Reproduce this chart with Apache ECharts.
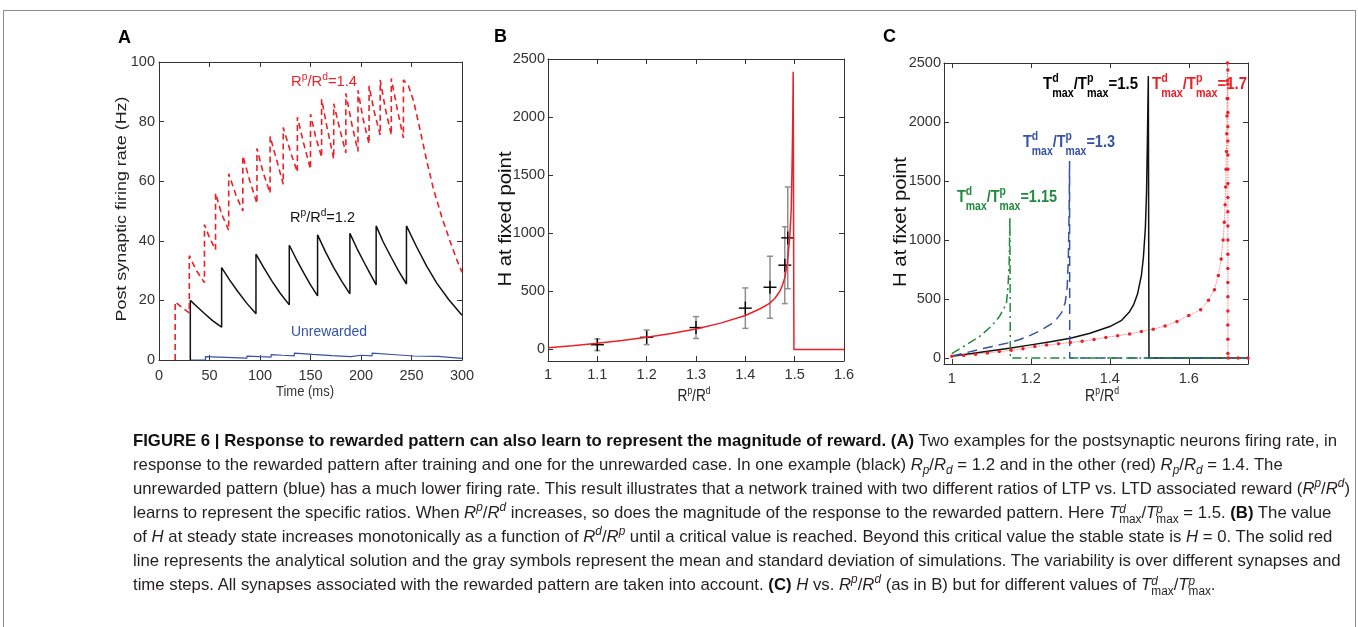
<!DOCTYPE html>
<html><head><meta charset="utf-8">
<script src="https://cdn.jsdelivr.net/npm/echarts@6/dist/echarts.min.js"></script>
<style>
html,body{margin:0;padding:0;background:#fff;width:1358px;height:627px;overflow:hidden}
#chart{position:absolute;left:0;top:0;width:1358px;height:627px}
#frame{position:absolute;left:3px;top:10px;width:1351px;height:700px;border:1px solid #8d8d8d;pointer-events:none}
#caption{position:absolute;left:133px;top:429px;font-family:"Liberation Sans",Arial,sans-serif;font-size:17px;line-height:24px;color:#231f20;transform-origin:0 0;white-space:nowrap}
#caption .ln{display:block;height:24px}
#caption b{color:#111}
#caption sup,#caption sub{font-size:12px;line-height:0;position:relative;vertical-align:baseline}
#caption sup{top:-0.55em}
#caption sub{top:0.3em}
#caption .st{display:inline-block;vertical-align:-5px;font-size:12px;line-height:10px;text-align:left}
#caption .st > *{display:block}
</style></head><body>
<div id="chart"></div>
<div id="frame"></div>
<div id="caption">
<div class="ln"><span id="l1"><b>FIGURE 6 | Response to rewarded pattern can also learn to represent the magnitude of reward. (A)</b> Two examples for the postsynaptic neurons firing rate, in</span></div>
<div class="ln"><span>response to the rewarded pattern after training and one for the unrewarded case. In one example (black) <i>R</i><sub><i>p</i></sub>/<i>R</i><sub><i>d</i></sub> = 1.2 and in the other (red) <i>R</i><sub><i>p</i></sub>/<i>R</i><sub><i>d</i></sub> = 1.4. The</span></div>
<div class="ln"><span>unrewarded pattern (blue) has a much lower firing rate. This result illustrates that a network trained with two different ratios of LTP vs. LTD associated reward (<i>R</i><sup><i>p</i></sup>/<i>R</i><sup><i>d</i></sup>)</span></div>
<div class="ln"><span>learns to represent the specific ratios. When <i>R</i><sup><i>p</i></sup>/<i>R</i><sup><i>d</i></sup> increases, so does the magnitude of the response to the rewarded pattern. Here <i>T</i><span class="st"><i>d</i><span>max</span></span>/<i>T</i><span class="st"><i>p</i><span>max</span></span> = 1.5. <b>(B)</b> The value</span></div>
<div class="ln"><span>of <i>H</i> at steady state increases monotonically as a function of <i>R</i><sup><i>d</i></sup>/<i>R</i><sup><i>p</i></sup> until a critical value is reached. Beyond this critical value the stable state is <i>H</i> = 0. The solid red</span></div>
<div class="ln"><span>line represents the analytical solution and the gray symbols represent the mean and standard deviation of simulations. The variability is over different synapses and</span></div>
<div class="ln"><span>time steps. All synapses associated with the rewarded pattern are taken into account. <b>(C)</b> <i>H</i> vs. <i>R</i><sup><i>p</i></sup>/<i>R</i><sup><i>d</i></sup> (as in B) but for different values of <i>T</i><span class="st"><i>d</i><span>max</span></span>/<i>T</i><span class="st"><i>p</i><span>max</span></span>.</span></div>
</div>
<script>
// ================= DATA =================
// Panel A: time (ms) vs post synaptic firing rate (Hz)
const aXTicks = [0, 50, 100, 150, 200, 250, 300];
const aYTicks = [0, 20, 40, 60, 80, 100];
const aBlack = [[31,0],[31,20],[38,17.8],[45,15.6],[53,13.2],[62,11],[62,31],[70,26.8],[78,23],[87,19],[96,15.5],[96,35.5],[104,30.8],[112,26.4],[120,22.4],[129,18.5],[129,38.5],[136,33.8],[143,29.4],[150,25.2],[157,21.5],[157,42],[165,36.2],[173,31],[181,26.4],[189,22.2],[189,42.5],[196,37.4],[203,32.8],[209,29],[215,25.2],[215,45],[222,39.6],[230,34.4],[237,30],[245,25.5],[245,45],[255,38],[265,31.5],[275,25.8],[287,20.2],[300,15]];
const aRed = [[16,0],[16,19.5],[23,17.6],[30,15.8],[30,35],[37,30],[45,26],[45,45.5],[50,41],[56,37],[56,56],[62,49],[69,43.5],[69,62.5],[76,55.5],[83,50],[83,68.5],[90,60],[97,52.5],[97,71],[103,63],[110,56],[110,75],[117,66.5],[123,59],[123,78],[130,70],[137,63],[137,81.5],[143,73],[150,64],[150,82.5],[155,75],[161,68],[161,87.5],[167,77],[173,67.5],[173,86],[179,77.5],[185,69.5],[185,89.5],[191,79],[197,70],[197,90.5],[202,81],[208,72.5],[208,92],[213,83.5],[219,75.5],[219,94],[224,84.5],[230,75.5],[230,94.5],[236,84],[242,74.5],[242,94],[247,92],[252,87],[258,78],[265,67],[272,57],[280,48],[288,40],[295,33.5],[300,29.5]];
const aBlue = [[31,0],[46,0],[46,1.1],[66,0.85],[87,0.6],[87,1.3],[99,1.1],[111,0.95],[111,1.8],[122,1.6],[134,1.4],[134,2.3],[152,1.9],[171,1.5],[190,1.15],[190,1.8],[200,1.6],[211,1.4],[211,2.3],[231,1.85],[252,1.35],[252,2.0],[276,1.2],[300,0.55]];

// Panel B: R^p/R^d vs H at fixed point
const bXTicks = [1, 1.1, 1.2, 1.3, 1.4, 1.5, 1.6];
const bYTicks = [0, 500, 1000, 1500, 2000, 2500];
const bCurve = [[1,14],[1.05,32],[1.1,52],[1.15,76],[1.2,104],[1.25,136],[1.3,176],[1.35,226],[1.4,292],[1.43,350],[1.45,399],[1.46,440],[1.47,500],[1.475,550],[1.48,616],[1.485,740],[1.49,962],[1.493,1200],[1.495,1650],[1.4962,2000],[1.497,2390],[1.4985,0],[1.6,0]];
const bSimX = [1.1, 1.2, 1.3, 1.4, 1.45, 1.48, 1.486];
const bSimMean = [40, 104, 188, 355, 535, 725, 960];
const bSimSd = [50, 63, 94, 174, 267, 331, 438];

// Panel C: R^p/R^d vs H at fixet point for several Tmax ratios
const cXTicks = [1, 1.2, 1.4, 1.6];
const cYTicks = [0, 500, 1000, 1500, 2000, 2500];
const cBlack = [[1,15],[1.05,38],[1.1,62],[1.15,86],[1.2,112],[1.25,138],[1.3,169],[1.35,210],[1.4,267],[1.43,320],[1.45,393],[1.46,450],[1.47,540],[1.48,700],[1.485,850],[1.49,1100],[1.493,1400],[1.495,1800],[1.4975,2390],[1.4985,2390],[1.4992,0],[1.75,0]];
const cBlue = [[1,17],[1.035,45],[1.07,74],[1.1,97],[1.14,127],[1.17,155],[1.2,195],[1.225,235],[1.25,285],[1.265,330],[1.278,385],[1.287,470],[1.292,600],[1.295,850],[1.297,1250],[1.298,1670],[1.2985,0],[1.75,0]];
const cGreen = [[1,38],[1.035,110],[1.069,180],[1.1,270],[1.12,350],[1.13,410],[1.138,460],[1.142,600],[1.145,800],[1.147,1190],[1.148,0],[1.75,0]];
const cRed = [[1,15],[1.03,22],[1.06,33],[1.09,44],[1.12,55],[1.15,66],[1.18,80],[1.21,98],[1.24,110],[1.27,122],[1.3,132],[1.33,142],[1.36,158],[1.39,175],[1.42,190],[1.45,205],[1.48,225],[1.51,245],[1.54,272],[1.57,310],[1.6,360],[1.63,410],[1.65,490],[1.665,580],[1.675,700],[1.682,840],[1.687,1000],[1.69,1150],[1.692,1300],[1.6935,1450],[1.6945,1600],[1.6955,1750],[1.6962,1900],[1.6968,2050],[1.6973,2200],[1.6977,2350],[1.698,2500],[1.699,2440],[1.699,2320],[1.699,2200],[1.699,2080],[1.699,1960],[1.699,1840],[1.699,1720],[1.699,1600],[1.699,1480],[1.699,1360],[1.699,1240],[1.699,1120],[1.699,1000],[1.699,880],[1.699,760],[1.699,640],[1.699,520],[1.699,400],[1.699,280],[1.699,160],[1.699,40],[1.7,0],[1.725,0],[1.75,0]];

// ================= STYLE / HELPERS =================
const FONT = '"Liberation Sans", Arial, Helvetica, sans-serif';
const RED = '#ee1f26', BLUE = '#3352a8', GREEN = '#1f8a3c', BLACK = '#111', AX = '#333';
const mctx = document.createElement('canvas').getContext('2d');
function textW(t, f) { mctx.font = f; return mctx.measureText(t).width; }
const MID = 0.3465;
function mathLabel(o) {
  const wt = o.bold ? 'bold ' : '';
  const S = o.size, s = S * (o.smallRatio || 0.72);
  const fMain = wt + S + 'px ' + FONT, fSmall = wt + s.toFixed(2) + 'px ' + FONT;
  const supK = o.supK == null ? 0.42 : o.supK, subK = o.subK == null ? 0.48 : o.subK;
  const items = []; let cx = 0;
  for (const p of o.parts) {
    if (typeof p === 'string') { items.push({t: p, f: fMain, x: cx, dy: -MID * S}); cx += textW(p, fMain); }
    else {
      let w = 0;
      if (p.sup) { items.push({t: p.sup, f: fSmall, x: cx, dy: -supK * S - MID * s}); w = Math.max(w, textW(p.sup, fSmall)); }
      if (p.sub) { items.push({t: p.sub, f: fSmall, x: cx, dy: subK * S - MID * s}); w = Math.max(w, textW(p.sub, fSmall)); }
      cx += w;
    }
  }
  const sc = o.width ? o.width / cx : 1;
  const off = o.align === 'center' ? -cx / 2 : 0;
  const shift = o.center ? 0.36 * S : 0;
  return {type: 'group', x: o.x, y: o.y, scaleX: sc, rotation: o.rotate || 0, silent: true,
    children: items.map(it => ({type: 'text', x: it.x + off, y: it.dy + shift,
      style: {text: it.t, font: it.f, fill: o.color || '#222', textAlign: 'left', align: 'left', textVerticalAlign: 'middle', verticalAlign: 'middle'}}))};
}
const fmt = v => String(Math.round(v * 1000) / 1000);
function axisPair(kind, grid, min, max, ticks, margin) {
  const base = {type: 'value', gridIndex: grid, min: min, max: max, splitLine: {show: false},
    axisLine: {show: true, onZero: false, lineStyle: {color: AX, width: 1}},
    axisTick: {show: true, inside: true, length: 5, customValues: ticks, lineStyle: {color: AX, width: 1}}};
  const main = Object.assign({}, base, {position: kind === 'x' ? 'bottom' : 'left',
    axisLabel: {show: true, customValues: ticks, formatter: fmt, color: '#333', fontSize: 14.5, fontFamily: FONT, margin: margin}});
  const mirror = Object.assign({}, base, {position: kind === 'x' ? 'top' : 'right', axisLabel: {show: false}});
  return [main, mirror];
}

// ================= CHART =================
const chart = echarts.init(document.getElementById('chart'), null, {renderer: 'canvas'});
const grids = [
  {left: 159, top: 62, width: 303, height: 298},
  {left: 548, top: 59, width: 296, height: 302},
  {left: 944, top: 63, width: 304, height: 301}
];
const xAxes = [].concat(
  axisPair('x', 0, 0, 300, aXTicks, 8),
  axisPair('x', 1, 1, 1.6, bXTicks, 6),
  axisPair('x', 2, 0.98, 1.75, cXTicks, 7));
const yAxes = [].concat(
  axisPair('y', 0, 0, 100, aYTicks, 4),
  axisPair('y', 1, -100, 2500, bYTicks, 3),
  axisPair('y', 2, -50, 2500, cYTicks, 3));

const line = (data, xi, color, width, type, extra) => Object.assign({
  type: 'line', xAxisIndex: xi, yAxisIndex: xi, data: data, showSymbol: false, symbol: 'none',
  lineStyle: {color: color, width: width, type: type || 'solid'}, silent: true}, extra || {});

const series = [
  line(aBlue, 0, BLUE, 1.2),
  line(aBlack, 0, BLACK, 1.5),
  line(aRed, 0, RED, 1.6, [6, 4]),
  line(bCurve, 2, RED, 1.5),
  {type: 'custom', xAxisIndex: 2, yAxisIndex: 2, silent: true,
    data: bSimX.map((x, i) => [x, bSimMean[i], bSimSd[i]]),
    encode: {x: 0, y: 1},
    renderItem: function (params, api) {
      const x = api.value(0), m = api.value(1), sd = api.value(2);
      const c = api.coord([x, m]), lo = api.coord([x, m - sd]), hi = api.coord([x, m + sd]);
      const g = '#8f8f8f', cap = 3, arm = 6.5;
      return {type: 'group', children: [
        {type: 'line', shape: {x1: lo[0], y1: lo[1], x2: hi[0], y2: hi[1]}, style: {stroke: g, lineWidth: 1.5}},
        {type: 'line', shape: {x1: lo[0] - cap, y1: lo[1], x2: lo[0] + cap, y2: lo[1]}, style: {stroke: g, lineWidth: 1.5}},
        {type: 'line', shape: {x1: hi[0] - cap, y1: hi[1], x2: hi[0] + cap, y2: hi[1]}, style: {stroke: g, lineWidth: 1.5}},
        {type: 'line', shape: {x1: c[0] - arm, y1: c[1], x2: c[0] + arm, y2: c[1]}, style: {stroke: '#000', lineWidth: 1.4}},
        {type: 'line', shape: {x1: c[0], y1: c[1] - arm, x2: c[0], y2: c[1] + arm}, style: {stroke: '#000', lineWidth: 1.4}}
      ]};
    }},
  line(cBlack, 4, BLACK, 1.5),
  line(cBlue, 4, BLUE, 1.5, [10, 6]),
  line(cRed, 4, '#f04545', 0.8, 'dotted', {showSymbol: true, symbol: 'circle', symbolSize: 3.5, itemStyle: {color: RED, borderWidth: 0}}),
  line(cGreen, 4, GREEN, 1.5, [9, 4, 2, 4])
];

const RPRD = ['R', {sup: 'p'}, '/R', {sup: 'd'}];
const TT = v => ['T', {sup: 'd', sub: 'max'}, '/T', {sup: 'p', sub: 'max'}, v];
const graphic = [
  // panel letters
  mathLabel({parts: ['A'], x: 118, y: 44, size: 18, bold: true, color: '#000'}),
  mathLabel({parts: ['B'], x: 494, y: 43, size: 18, bold: true, color: '#000'}),
  mathLabel({parts: ['C'], x: 883, y: 43, size: 18, bold: true, color: '#000'}),
  // panel A
  mathLabel({parts: ['Post synaptic firing rate (Hz)'], x: 122, y: 209, size: 15, align: 'center', center: true, rotate: Math.PI / 2, width: 225, color: '#222'}),
  mathLabel({parts: ['Time (ms)'], x: 305, y: 397, size: 14, align: 'center', width: 58, color: '#333'}),
  mathLabel({parts: RPRD.concat(['=1.4']), x: 291, y: 87, size: 15, supK: 0.4, smallRatio: 0.7, width: 66, color: RED}),
  mathLabel({parts: RPRD.concat(['=1.2']), x: 290, y: 223, size: 15, supK: 0.4, smallRatio: 0.7, width: 65, color: '#111'}),
  mathLabel({parts: ['Unrewarded'], x: 291, y: 337, size: 15, width: 76, color: BLUE}),
  // panel B
  mathLabel({parts: ['H at fixed point'], x: 506, y: 219, size: 18, align: 'center', center: true, rotate: Math.PI / 2, width: 135, color: '#111'}),
  mathLabel({parts: RPRD, x: 694, y: 402, size: 17, align: 'center', supK: 0.4, smallRatio: 0.62, width: 33, color: '#222'}),
  // panel C
  mathLabel({parts: ['H at fixet point'], x: 901, y: 222, size: 18, align: 'center', center: true, rotate: Math.PI / 2, width: 130, color: '#111'}),
  mathLabel({parts: RPRD, x: 1102, y: 402, size: 17, align: 'center', supK: 0.4, smallRatio: 0.62, width: 34, color: '#222'}),
  mathLabel({parts: TT('=1.5'), x: 1043, y: 90, size: 16.5, bold: true, width: 95, color: '#000'}),
  mathLabel({parts: TT('=1.7'), x: 1152, y: 90, size: 16.5, bold: true, width: 95, color: RED}),
  mathLabel({parts: TT('=1.3'), x: 1023, y: 148, size: 16.5, bold: true, width: 92, color: BLUE}),
  mathLabel({parts: TT('=1.15'), x: 957, y: 203, size: 16.5, bold: true, width: 100, color: GREEN})
];

chart.setOption({
  animation: false,
  backgroundColor: '#fff',
  grid: grids,
  xAxis: xAxes,
  yAxis: yAxes,
  series: series,
  graphic: graphic
});

// fit caption width to the reference (first line spans 133..1337 px)
const l1 = document.getElementById('l1');
const w1 = l1.getBoundingClientRect().width;
document.getElementById('caption').style.transform = 'scaleX(' + (1204 / w1) + ')';
</script>
</body></html>
